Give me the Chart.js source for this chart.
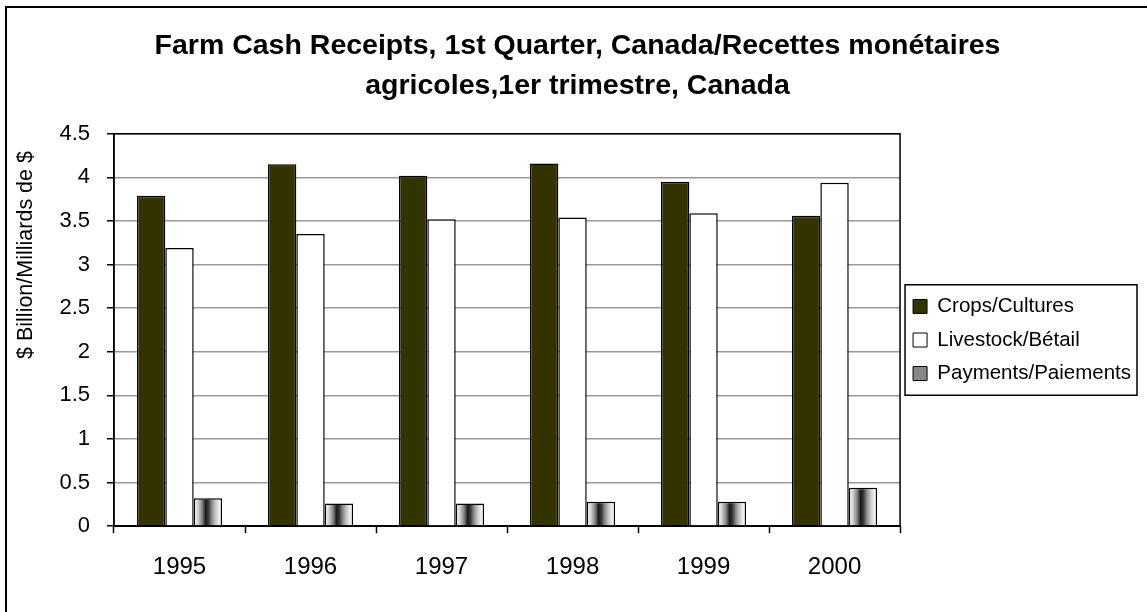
<!DOCTYPE html>
<html>
<head>
<meta charset="utf-8">
<script src="https://cdn.jsdelivr.net/npm/chart.js@4.4.1/dist/chart.umd.min.js"></script>
<style>
  html, body { margin: 0; padding: 0; background: #fff; }
  #wrap { width: 1147px; height: 612px; }
</style>
</head>
<body>
<div id="wrap"><canvas id="myChart" width="1147" height="612"></canvas></div>
<script>
// data
const years = ["1995", "1996", "1997", "1998", "1999", "2000"];
const crops = [3.79, 4.15, 4.02, 4.16, 3.95, 3.56];
const livestock = [3.19, 3.35, 3.52, 3.54, 3.59, 3.94];
const payments = [0.32, 0.26, 0.26, 0.28, 0.28, 0.44];
const seriesNames = ["Crops/Cultures", "Livestock/Bétail", "Payments/Paiements"];
const yTicks = [0, 0.5, 1, 1.5, 2, 2.5, 3, 3.5, 4, 4.5];
const yTitle = "$ Billion/Milliards de $";

const FONT = "'Liberation Sans', Arial, sans-serif";
const CAT_PCT = 0.65;

// striped fill for the payments bars, built per bar from the x scale
function stripes(ctx) {
    const chart = ctx.chart;
    const area = chart.chartArea;
    if (!area || ctx.type !== 'data') return '#888';
    const xs = chart.scales.x;
    const catW = area.width / years.length;
    const bw = catW * CAT_PCT / 3;
    const left = xs.getPixelForValue(ctx.dataIndex) + bw / 2;
    const g = chart.ctx.createLinearGradient(left, 0, left + bw, 0);
    g.addColorStop(0, '#ffffff');
    g.addColorStop(0.15, '#d0d0d0');
    g.addColorStop(0.3, '#808080');
    g.addColorStop(0.42, '#1a1a1a');
    g.addColorStop(0.52, '#3a3a3a');
    g.addColorStop(0.62, '#808080');
    g.addColorStop(0.75, '#c0c0c0');
    g.addColorStop(0.9, '#f0f0f0');
    g.addColorStop(1, '#ffffff');
    return g;
}

// outer frame, plot frame, y title and legend box
const frames = {
    id: 'frames',
    beforeDraw(chart) {
        const c = chart.ctx;
        c.save();
        c.fillStyle = '#fff';
        c.fillRect(0, 0, chart.width, chart.height);
        c.strokeStyle = '#000';
        c.lineWidth = 2;
        c.strokeRect(6, 7, chart.width + 20, chart.height + 20);
        c.restore();
    },
    afterDatasetsDraw(chart) {
        const a = chart.chartArea;
        const c = chart.ctx;
        c.save();
        c.strokeStyle = '#000';
        c.lineWidth = 1.5;
        c.strokeRect(a.left, a.top, a.right - a.left, a.bottom - a.top);
        c.restore();
    },
    afterDraw(chart) {
        const c = chart.ctx;
        // y axis title, sits above the middle of the axis like the original
        c.save();
        c.translate(26, 255);
        c.rotate(-Math.PI / 2);
        c.fillStyle = '#000';
        c.font = "21.5px " + FONT;
        c.textAlign = 'center';
        c.textBaseline = 'middle';
        c.fillText(yTitle, 0, 0);
        c.restore();

        const lg = chart.legend;
        if (!lg || !lg.legendHitBoxes.length) return;
        const hb = lg.legendHitBoxes;
        const first = hb[0], last = hb[hb.length - 1];
        let w = 0;
        hb.forEach(h => { w = Math.max(w, h.width); });
        c.save();
        c.strokeStyle = '#000';
        c.lineWidth = 1.5;
        c.strokeRect(first.left - 8, first.top - 11.5, w + 14, last.top + last.height - first.top + 23);
        c.restore();
    }
};

new Chart("myChart", {
    type: "bar",
    data: {
        labels: years,
        datasets: [{
            label: seriesNames[0],
            data: crops,
            backgroundColor: '#333300',
            borderColor: '#000',
            borderWidth: 1.5
        }, {
            label: seriesNames[1],
            data: livestock,
            backgroundColor: '#ffffff',
            borderColor: '#000',
            borderWidth: 1.5
        }, {
            label: seriesNames[2],
            data: payments,
            backgroundColor: stripes,
            borderColor: '#000',
            borderWidth: 1.5
        }]
    },
    options: {
        responsive: false,
        animation: false,
        devicePixelRatio: 1,
        categoryPercentage: CAT_PCT,
        barPercentage: 1,
        layout: { padding: { left: 14, right: 6, top: 26, bottom: 10 } },
        plugins: {
            title: {
                display: true,
                text: ["Farm Cash Receipts, 1st Quarter, Canada/Recettes monétaires",
                       "agricoles,1er trimestre, Canada"],
                color: '#000',
                font: { family: FONT, size: 28.5, weight: 'bold', lineHeight: 1.4 },
                padding: { top: 0, bottom: 28 }
            },
            legend: {
                position: 'right',
                fullSize: false,
                // empty title only nudges the items down a little
                title: { display: true, text: '', font: { size: 10, lineHeight: 1.2 }, padding: 4 },
                labels: {
                    color: '#000',
                    font: { family: FONT, size: 20.5 },
                    boxWidth: 14,
                    boxHeight: 14,
                    padding: 13,
                    generateLabels(chart) {
                        const items = Chart.defaults.plugins.legend.labels.generateLabels(chart);
                        items.forEach(it => { it.strokeStyle = '#000'; it.lineWidth = 1; });
                        items[2].fillStyle = '#888';
                        return items;
                    }
                }
            },
            tooltip: { enabled: false }
        },
        scales: {
            x: {
                grid: {
                    display: true,
                    drawOnChartArea: false,
                    offset: true,
                    tickLength: 7,
                    tickColor: '#000',
                    tickWidth: 1.5
                },
                border: { color: '#000', width: 1.5 },
                ticks: { color: '#000', font: { family: FONT, size: 24 }, padding: 20 }
            },
            y: {
                min: 0,
                max: 4.5,
                afterBuildTicks(scale) {
                    scale.ticks = yTicks.map(v => ({ value: v }));
                },
                afterFit(scale) { scale.width = 100; },
                grid: {
                    color: '#999',
                    lineWidth: 1.5,
                    tickLength: 7,
                    tickColor: '#000',
                    tickWidth: 1.5
                },
                border: { color: '#000', width: 1.5 },
                ticks: {
                    color: '#000',
                    font: { family: FONT, size: 22 },
                    padding: 17,
                    callback: v => String(v)
                }
            }
        }
    },
    plugins: [frames]
});
</script>
</body>
</html>
